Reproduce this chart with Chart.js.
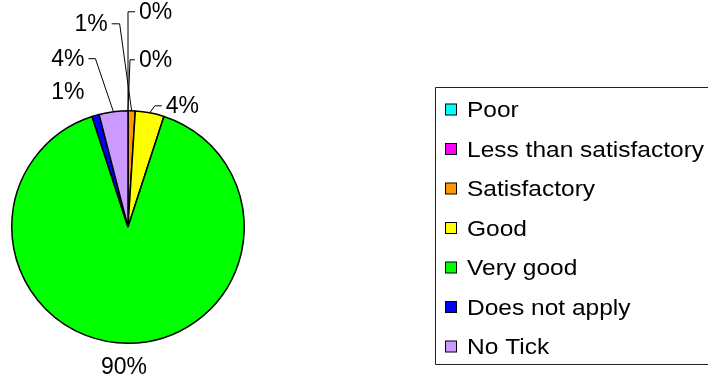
<!DOCTYPE html>
<html>
<head>
<meta charset="utf-8">
<script src="https://cdn.jsdelivr.net/npm/chart.js@4.4.0/dist/chart.umd.min.js"></script>
<style>
  html, body { margin: 0; padding: 0; background: #fff; }
  canvas { display: block; }
</style>
</head>
<body>
<canvas id="pie" width="708" height="379"></canvas>
<script>
const categories = ['Poor', 'Less than satisfactory', 'Satisfactory', 'Good', 'Very good', 'Does not apply', 'No Tick'];
const percents = [0, 0, 1, 4, 90, 1, 4];
const colors = ['#00FFFF', '#FF00FF', '#FF9900', '#FFFF00', '#00FF00', '#0000FF', '#CC99FF'];

// where each value label sits, relative to the point on the rim at the slice middle
// tx/ty = text anchor, ex/ey = leader elbow (null = no leader)
const labelSpots = [
  { tx: 11, ty: -99, align: 'left', ex: 0, ey: -99 },
  { tx: 11, ty: -51, align: 'left', ex: 2, ey: -51 },
  { tx: -24, ty: -87, align: 'right', ex: -12, ey: -87 },
  { tx: 16, ty: -7, align: 'left', ex: 5, ey: -7 },
  { tx: -4, ty: 23, align: 'center', ex: null },
  { tx: -11, ty: -24, align: 'right', ex: null },
  { tx: -29, ty: -53, align: 'right', ex: -18, ey: -53 }
];

const pctLabels = {
  id: 'pctLabels',
  afterDatasetsDraw(chart) {
    const ctx = chart.ctx;
    const arcs = chart.getDatasetMeta(0).data;
    ctx.save();
    ctx.font = '23px "Liberation Sans", Arial, sans-serif';
    ctx.textBaseline = 'middle';
    ctx.fillStyle = '#000';
    ctx.strokeStyle = '#000';
    ctx.lineWidth = 1;
    arcs.forEach((arc, i) => {
      const p = arc.getProps(['x', 'y', 'startAngle', 'endAngle', 'outerRadius'], true);
      const mid = (p.startAngle + p.endAngle) / 2;
      const ax = p.x + Math.cos(mid) * p.outerRadius;
      const ay = p.y + Math.sin(mid) * p.outerRadius;
      const s = labelSpots[i];
      const tx = ax + s.tx, ty = ay + s.ty;
      const text = percents[i] + '%';
      if (s.ex !== null) {
        const end = s.align === 'left' ? tx - 4 : tx + 4;
        ctx.beginPath();
        ctx.moveTo(ax, ay);
        ctx.lineTo(ax + s.ex, ty);
        ctx.lineTo(end, ty);
        ctx.stroke();
      }
      ctx.textAlign = s.align;
      ctx.fillText(text, tx, ty + 1);
    });
    ctx.restore();
  }
};

// boxed legend on the right, runs off the canvas edge
const boxLegend = {
  id: 'boxLegend',
  afterDraw(chart) {
    const ctx = chart.ctx;
    const left = 435.5, top = 87.5, bottom = 364.5;
    ctx.save();
    ctx.strokeStyle = '#222';
    ctx.lineWidth = 1;
    ctx.beginPath();
    ctx.moveTo(720, top);
    ctx.lineTo(left, top);
    ctx.lineTo(left, bottom);
    ctx.lineTo(720, bottom);
    ctx.stroke();

    ctx.font = '21.5px "Liberation Sans", Arial, sans-serif';
    ctx.textBaseline = 'alphabetic';
    chart.data.labels.forEach((name, i) => {
      const cy = 109.5 + i * 39.5;
      ctx.fillStyle = colors[i];
      ctx.fillRect(445.5, cy - 5.5, 11, 11);
      ctx.strokeStyle = '#000';
      ctx.strokeRect(445.5, cy - 5.5, 11, 11);
      ctx.fillStyle = '#000';
      // the legend text is a little wider than the font's own shapes
      ctx.save();
      ctx.translate(467, cy + 7.5);
      ctx.scale(1.14, 1);
      ctx.fillText(name, 0, 0);
      ctx.restore();
    });
    ctx.restore();
  }
};

new Chart(document.getElementById('pie'), {
  type: 'pie',
  data: {
    labels: categories,
    datasets: [{
      data: percents,
      backgroundColor: colors,
      borderColor: '#000',
      borderWidth: 1.5
    }]
  },
  options: {
    responsive: false,
    animation: false,
    layout: { padding: { left: 11, right: 463, top: 110, bottom: 35 } },
    plugins: {
      legend: { display: false },
      tooltip: { enabled: false }
    }
  },
  plugins: [pctLabels, boxLegend]
});
</script>
</body>
</html>
